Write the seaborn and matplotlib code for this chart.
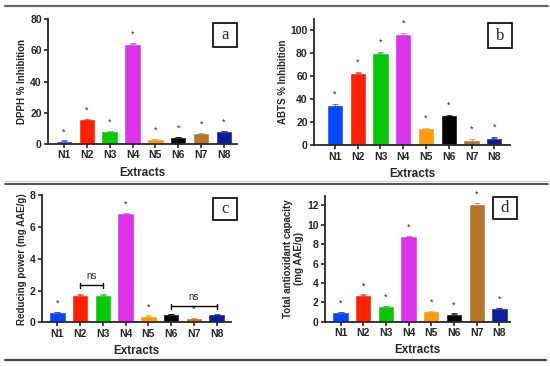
import numpy as np
import matplotlib
matplotlib.use("Agg")
import matplotlib.pyplot as plt
import seaborn as sns
import pandas as pd
from matplotlib.patches import Rectangle
from matplotlib.lines import Line2D

sns.set_style("ticks")
plt.rcParams["font.family"] = ["Liberation Sans", "DejaVu Sans"]

# ---------------------------------------------------------
# data
# ---------------------------------------------------------
extracts = ["N1", "N2", "N3", "N4", "N5", "N6", "N7", "N8"]
colors = ["#0a46ff", "#ff2200", "#06c806", "#dc33ea", "#ff9a0a", "#000000", "#b5772a", "#0c1d96"]

dpph = [2.1, 15.9, 8.1, 64.3, 3.2, 4.6, 6.8, 8.3]
dpph_err = [0.3, 0.3, 0.3, 0.5, 0.2, 0.2, 0.2, 0.2]
abts = [35.0, 63.3, 80.6, 97.0, 14.7, 26.0, 4.3, 6.6]
abts_err = [0.8, 0.5, 0.5, 0.5, 0.6, 0.5, 1.0, 0.6]
reducing = [0.65, 1.74, 1.74, 6.87, 0.42, 0.53, 0.25, 0.50]
reducing_err = [0.02, 0.02, 0.02, 0.03, 0.02, 0.02, 0.03, 0.02]
tac = [1.02, 2.78, 1.62, 8.82, 1.08, 0.82, 12.1, 1.40]
tac_err = [0.03, 0.04, 0.04, 0.05, 0.03, 0.03, 0.18, 0.03]

stars_a = extracts
stars_b = extracts
stars_c = ["N1", "N4", "N5", "N7"]
stars_d = extracts
ns_c = [("N2", "N3", 2.33), ("N6", "N8", 1.0)]

W, H = 550, 366


def px_axes(fig, left, right, top, bottom):
    return fig.add_axes([left / W, 1 - bottom / H, (right - left) / W, (bottom - top) / H])


def panel(ax, values, errs, ylabel, ylim, yticks, xlim, stars, star_off):
    df = pd.DataFrame({"Extract": extracts, "value": values})
    sns.barplot(data=df, x="Extract", y="value", hue="Extract", palette=colors,
                legend=False, width=0.72, ax=ax, saturation=1)
    for i, (v, e) in enumerate(zip(values, errs)):
        ax.errorbar(i, v, yerr=e, fmt="none", ecolor=colors[i], alpha=0.7,
                    elinewidth=0.7, capsize=2, capthick=0.7)
    for name in stars:
        i = extracts.index(name)
        ax.annotate("*", (i, values[i] + errs[i]), xytext=(0, star_off),
                    textcoords="offset points", ha="center", va="center", fontsize=6.5)
    ax.set_ylim(*ylim)
    ax.set_yticks(yticks)
    ax.set_xlim(*xlim)
    ax.set_ylabel(ylabel, fontsize=7, fontweight="bold", labelpad=2)
    ax.set_xlabel("Extracts", fontsize=8.5, fontweight="bold", labelpad=4.5)
    ax.tick_params(axis="both", labelsize=7.5, width=1.2, length=3, pad=1.5)
    for lab in ax.get_xticklabels() + ax.get_yticklabels():
        lab.set_fontweight("bold")
    for s in ["left", "bottom"]:
        ax.spines[s].set_linewidth(1.3)
    sns.despine(ax=ax)


def box_label(fig, text, left, right, top, bottom):
    fig.add_artist(Rectangle((left / W, 1 - bottom / H), (right - left) / W, (bottom - top) / H,
                             transform=fig.transFigure, fill=True, facecolor="white",
                             edgecolor="black", linewidth=1.2))
    fig.text((left + right) / 2 / W, 1 - (top + bottom) / 2 / H, text,
             family="Liberation Serif", fontsize=12, ha="center", va="center")


fig = plt.figure(figsize=(5.5, 3.66), dpi=100)

ax_a = px_axes(fig, 48, 237, 19, 144)
panel(ax_a, dpph, dpph_err, "DPPH % Inhibition", (0, 80), [0, 20, 40, 60, 80],
      (-0.7, 7.57), stars_a, 6)

ax_b = px_axes(fig, 314, 510, 19, 145.3)
panel(ax_b, abts, abts_err, "ABTS % Inhibition", (0, 110), [0, 20, 40, 60, 80, 100],
      (-0.92, 7.69), stars_b, 7)

ax_c = px_axes(fig, 41.7, 231, 195.3, 322.3)
panel(ax_c, reducing, reducing_err, "Reducing power (mg AAE/g)", (0, 8), [0, 2, 4, 6, 8],
      (-0.69, 7.63), stars_c, 6)
for a, b, y in ns_c:
    i, j = extracts.index(a), extracts.index(b)
    ax_c.plot([i, j], [y, y], color="black", lw=1)
    ax_c.plot([i, i], [y - 0.15, y + 0.15], color="black", lw=1)
    ax_c.plot([j, j], [y - 0.15, y + 0.15], color="black", lw=1)
    ax_c.text((i + j) / 2, y + 0.25, "ns", ha="center", va="bottom", fontsize=7)

ax_d = px_axes(fig, 325, 510, 195.7, 321.7)
panel(ax_d, tac, tac_err, "Total antioxidant capacity\n(mg AAE/g)", (0, 13),
      [0, 2, 4, 6, 8, 10, 12], (-0.69, 7.47), stars_d, 6)

box_label(fig, "a", 213, 237, 23, 47)
box_label(fig, "b", 488, 512, 23, 48)
box_label(fig, "c", 213, 237, 198, 220)
box_label(fig, "d", 493, 517, 197, 219)

# frame lines
fig.add_artist(Line2D([5 / W, 548 / W], [1 - 6 / H] * 2, color="#666666", lw=1.6,
                      transform=fig.transFigure))
fig.add_artist(Line2D([5 / W, 548 / W], [1 - 181 / H] * 2, color="#cccccc", lw=0.8,
                      transform=fig.transFigure))
fig.add_artist(Line2D([5 / W, 548 / W], [1 - 184 / H] * 2, color="#333333", lw=1.2,
                      transform=fig.transFigure))
fig.add_artist(Line2D([5 / W, 546 / W], [1 - 360 / H] * 2, color="#444444", lw=1.6,
                      transform=fig.transFigure))

fig.savefig("out.png", dpi=100)
